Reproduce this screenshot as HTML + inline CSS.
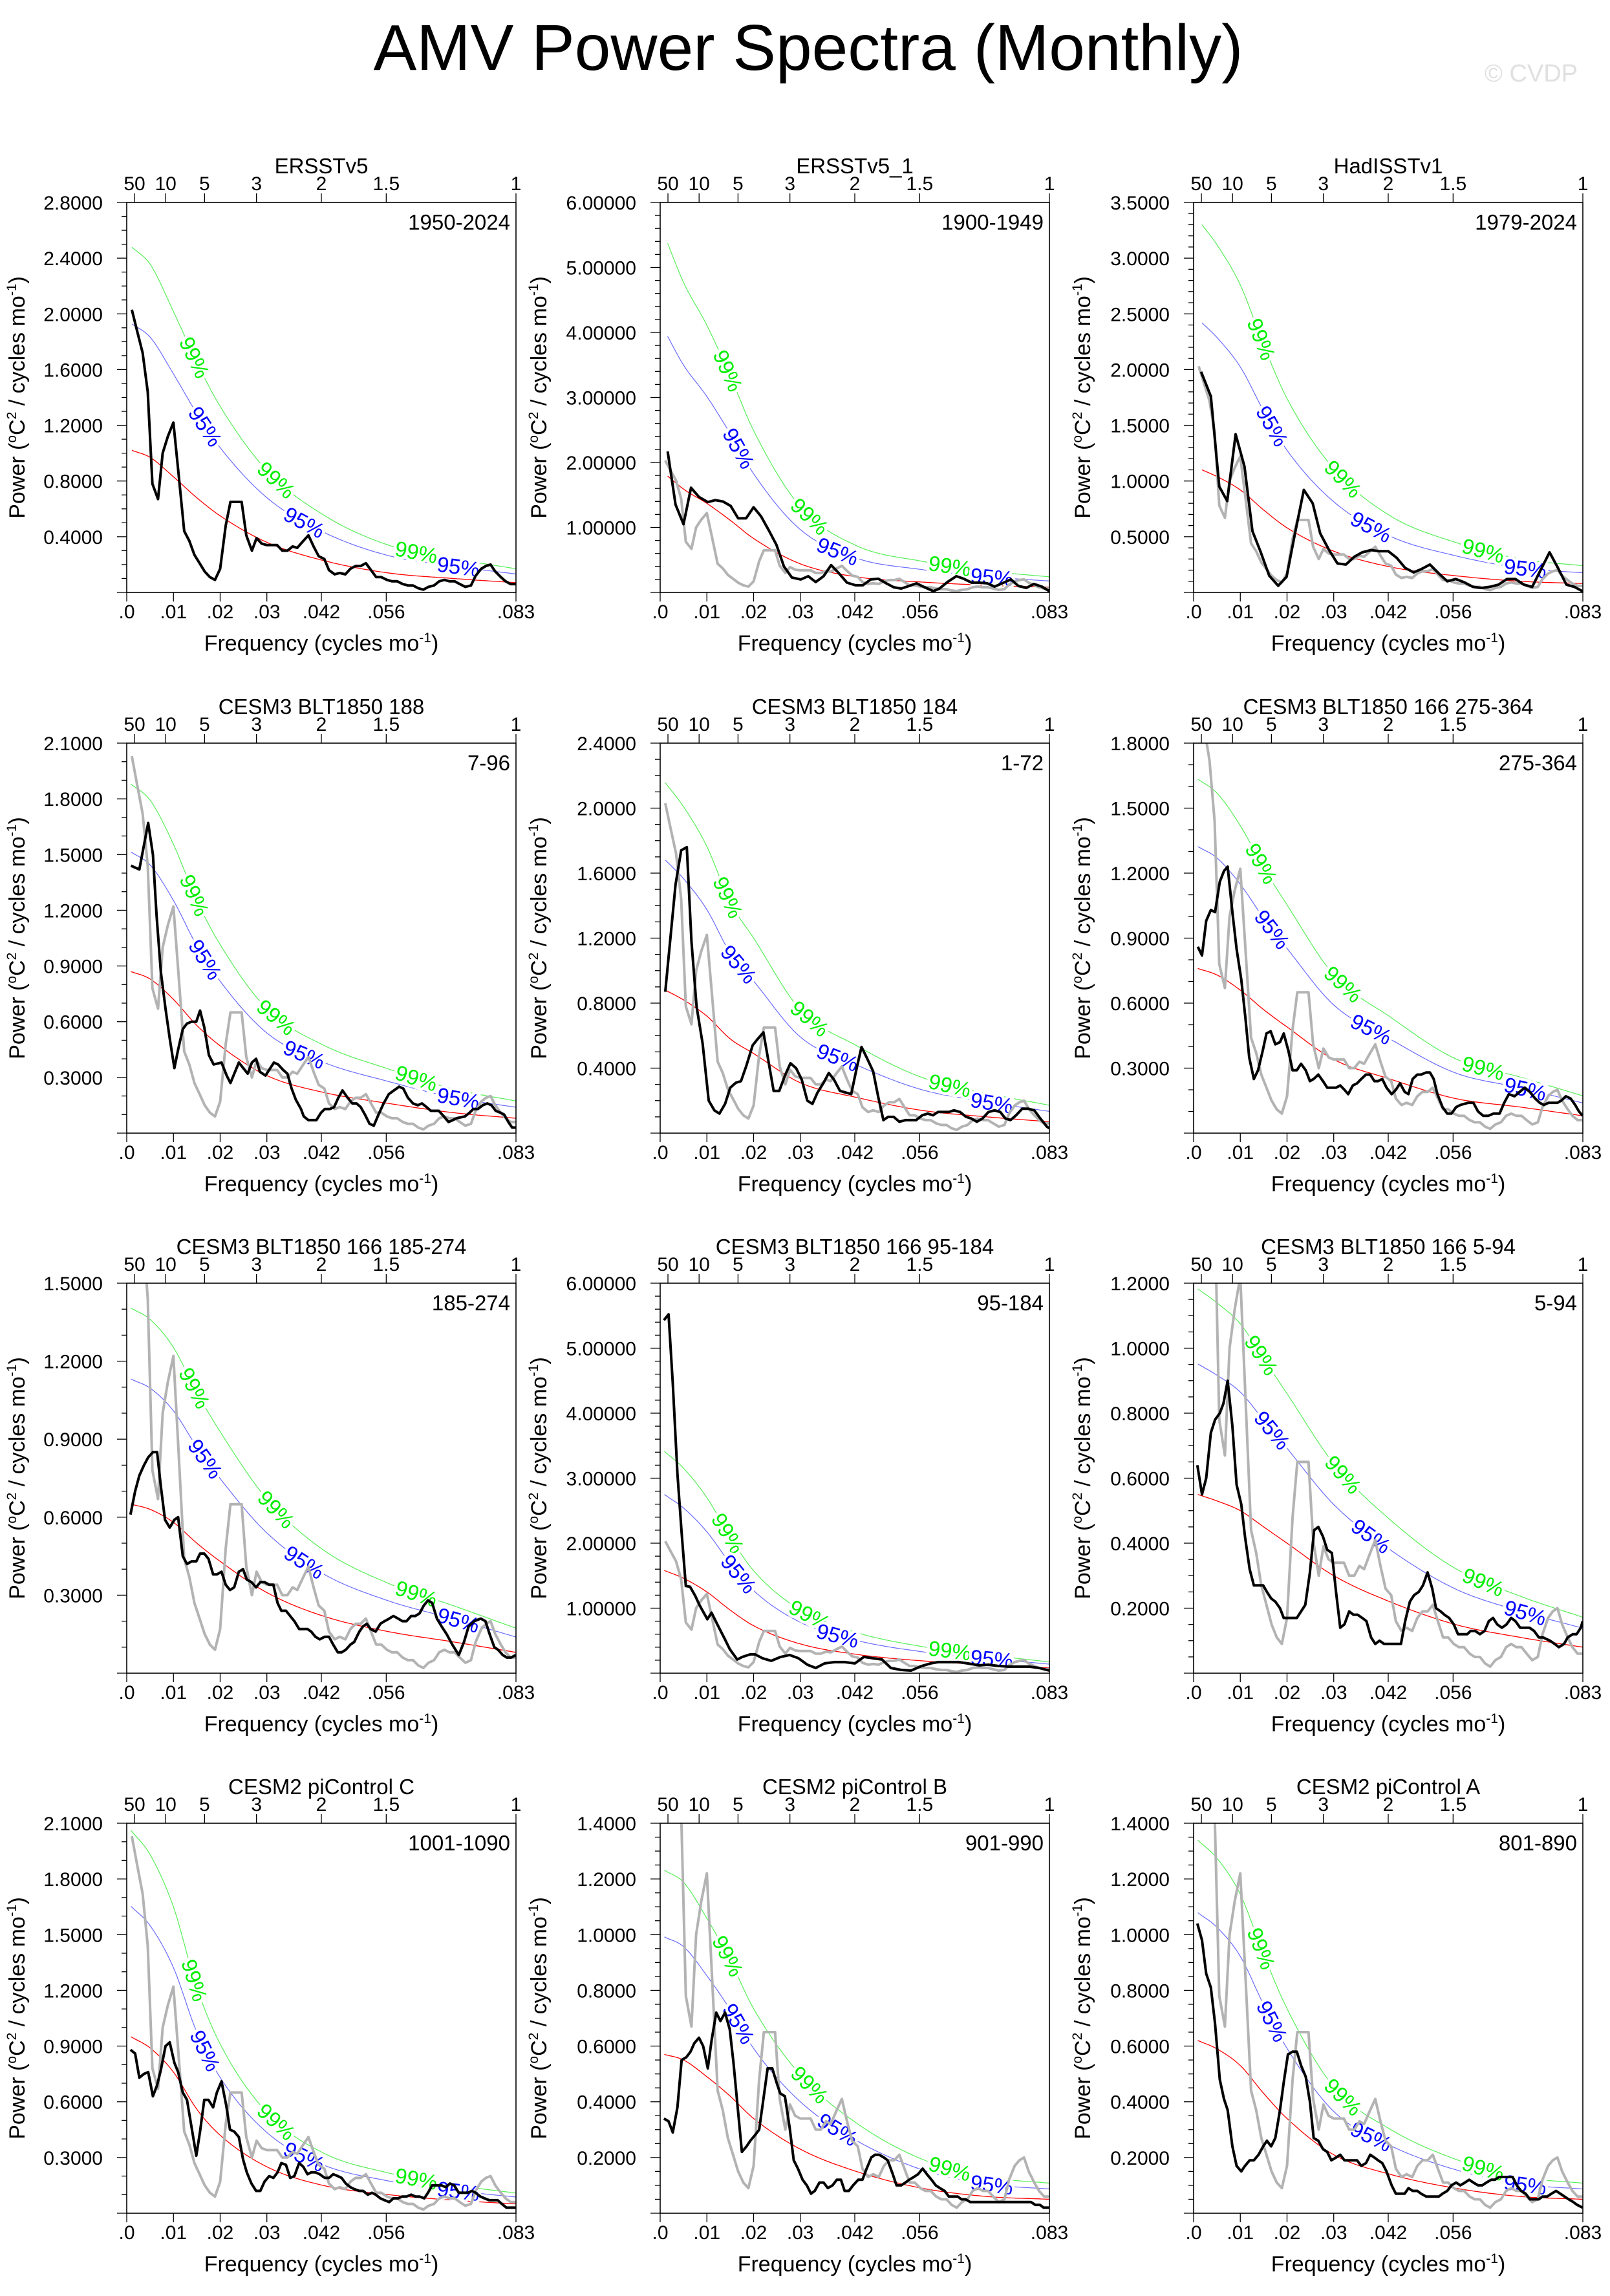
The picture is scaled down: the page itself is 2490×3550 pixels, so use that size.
<!DOCTYPE html>
<html><head><meta charset="utf-8"><title>AMV Power Spectra (Monthly)</title>
<style>
html,body{margin:0;padding:0;background:#fff;}
svg{display:block;font-family:"Liberation Sans",Arial,sans-serif;}
</style></head>
<body>
<svg id="fig" xmlns="http://www.w3.org/2000/svg" width="2490" height="3550" viewBox="0 0 2490 3550">
<rect x="0" y="0" width="2490" height="3550" fill="#fff"/>
<text x="1250" y="108" font-size="100" text-anchor="middle" fill="#000">AMV Power Spectra (Monthly)</text>
<text x="2440" y="126" font-size="38" text-anchor="end" fill="#e0e0e0">© CVDP</text>
</svg>
<script>
// ---- Data (frequency cycles/mo, power) ----
const black1 = [[.0011,2.03],[.0022,1.88],[.0034,1.72],[.0045,1.44],[.0055,.78],[.0067,.67],[.0077,1.00],[.0088,1.12],[.0100,1.22],[.0111,.85],[.0123,.44],[.0134,.37],[.0145,.27],[.0156,.21],[.0167,.15],[.0178,.11],[.0189,.09],[.0200,.17],[.0212,.48],[.0222,.65],[.0246,.65],[.0256,.41],[.0268,.30],[.0278,.39],[.0289,.35],[.0300,.34],[.0322,.34],[.0333,.30],[.0344,.30],[.0355,.33],[.0365,.32],[.0378,.37],[.0389,.41],[.0400,.33],[.0411,.26],[.0423,.24],[.0433,.16],[.0445,.13],[.0456,.14],[.0468,.13],[.0479,.17],[.0490,.19],[.0501,.19],[.0512,.21],[.0523,.16],[.0534,.11],[.0545,.11],[.0557,.09],[.0568,.08],[.0579,.08],[.0591,.06],[.0602,.05],[.0613,.05],[.0624,.03],[.0635,.02],[.0646,.04],[.0658,.05],[.0669,.08],[.0680,.09],[.0691,.08],[.0702,.08],[.0713,.06],[.0725,.04],[.0737,.05],[.0747,.12],[.0759,.17],[.0769,.19],[.0779,.20],[.0789,.15],[.0801,.11],[.0811,.08],[.0822,.06],[.0833,.06]];
const black2 = [[.0016,2.17],[.0033,1.35],[.0050,1.05],[.0066,1.61],[.0083,1.47],[.0102,1.39],[.0118,1.42],[.0134,1.40],[.0151,1.33],[.0167,1.14],[.0184,1.14],[.0200,1.31],[.0216,1.17],[.0233,.95],[.0249,.73],[.0265,.40],[.0282,.23],[.0301,.20],[.0317,.25],[.0333,.16],[.0350,.25],[.0366,.42],[.0382,.30],[.0400,.15],[.0418,.11],[.0434,.11],[.0451,.20],[.0467,.21],[.0484,.14],[.0500,.08],[.0516,.06],[.0533,.10],[.0549,.14],[.0566,.08],[.0585,.02],[.0598,.06],[.0615,.16],[.0634,.25],[.0650,.21],[.0667,.15],[.0683,.15],[.0700,.14],[.0716,.09],[.0732,.14],[.0751,.20],[.0767,.10],[.0784,.07],[.0800,.13],[.0817,.09],[.0833,.02]];
const black3 = [[.0016,1.98],[.0037,1.76],[.0055,.95],[.0072,.82],[.0090,1.42],[.0109,1.13],[.0126,.55],[.0143,.37],[.0162,.15],[.0181,.06],[.0199,.14],[.0217,.53],[.0236,.92],[.0255,.80],[.0271,.53],[.0290,.38],[.0308,.26],[.0326,.25],[.0344,.32],[.0361,.36],[.0380,.38],[.0398,.37],[.0417,.37],[.0435,.31],[.0453,.22],[.0471,.18],[.0488,.21],[.0506,.25],[.0525,.17],[.0543,.10],[.0561,.12],[.0580,.09],[.0598,.05],[.0616,.04],[.0634,.05],[.0653,.07],[.0671,.12],[.0689,.12],[.0707,.07],[.0725,.05],[.0744,.21],[.0762,.36],[.0780,.22],[.0798,.07],[.0815,.05],[.0833,.01]];
const black4 = [[.0009,1.44],[.0027,1.42],[.0046,1.67],[.0056,1.50],[.0064,1.17],[.0073,.87],[.0083,.67],[.0092,.51],[.0102,.35],[.0110,.45],[.0120,.56],[.0129,.59],[.0139,.60],[.0149,.60],[.0157,.66],[.0166,.57],[.0176,.42],[.0186,.37],[.0203,.38],[.0214,.31],[.0222,.27],[.0240,.38],[.0259,.32],[.0268,.38],[.0277,.40],[.0285,.33],[.0297,.31],[.0315,.38],[.0324,.37],[.0335,.34],[.0344,.32],[.0353,.24],[.0362,.18],[.0373,.13],[.0379,.09],[.0389,.07],[.0406,.07],[.0416,.11],[.0424,.13],[.0435,.13],[.0444,.14],[.0453,.19],[.0462,.23],[.0473,.19],[.0483,.16],[.0492,.16],[.0501,.14],[.0510,.10],[.0520,.05],[.0529,.04],[.0539,.10],[.0550,.16],[.0561,.21],[.0572,.23],[.0583,.25],[.0592,.24],[.0602,.19],[.0613,.16],[.0623,.15],[.0632,.16],[.0642,.14],[.0651,.12],[.0668,.12],[.0679,.09],[.0689,.06],[.0698,.07],[.0706,.08],[.0724,.09],[.0734,.11],[.0742,.13],[.0752,.13],[.0762,.15],[.0772,.16],[.0781,.15],[.0790,.12],[.0800,.11],[.0808,.10],[.0817,.06],[.0825,.03],[.0833,.03]];
const black5 = [[.0011,.87],[.0020,1.14],[.0033,1.53],[.0045,1.74],[.0057,1.76],[.0067,1.18],[.0078,.78],[.0091,.55],[.0104,.20],[.0116,.14],[.0127,.12],[.0139,.18],[.0150,.28],[.0162,.31],[.0173,.32],[.0184,.41],[.0198,.54],[.0209,.58],[.0221,.62],[.0232,.44],[.0243,.26],[.0255,.26],[.0268,.36],[.0279,.43],[.0291,.40],[.0303,.33],[.0315,.20],[.0326,.18],[.0337,.25],[.0350,.31],[.0361,.37],[.0372,.33],[.0385,.26],[.0397,.25],[.0409,.24],[.0420,.39],[.0431,.53],[.0443,.46],[.0456,.38],[.0467,.22],[.0478,.08],[.0488,.10],[.0500,.10],[.0512,.07],[.0525,.08],[.0537,.08],[.0548,.08],[.0561,.11],[.0573,.12],[.0584,.11],[.0595,.13],[.0606,.13],[.0618,.13],[.0629,.14],[.0642,.13],[.0655,.10],[.0666,.09],[.0678,.07],[.0690,.09],[.0703,.13],[.0716,.14],[.0728,.13],[.0739,.09],[.0750,.08],[.0762,.11],[.0775,.15],[.0788,.15],[.0801,.14],[.0814,.09],[.0828,.04],[.0833,.03]];
const black6 = [[.0009,.86],[.0018,.82],[.0027,.98],[.0037,1.03],[.0046,1.02],[.0056,1.16],[.0065,1.21],[.0073,1.23],[.0083,1.02],[.0092,.85],[.0102,.71],[.0111,.53],[.0119,.35],[.0129,.25],[.0138,.29],[.0148,.38],[.0156,.46],[.0165,.47],[.0175,.41],[.0185,.42],[.0193,.46],[.0203,.38],[.0212,.29],[.0221,.29],[.0230,.32],[.0240,.29],[.0249,.24],[.0257,.25],[.0267,.27],[.0277,.24],[.0286,.21],[.0295,.21],[.0305,.21],[.0314,.22],[.0323,.20],[.0331,.18],[.0341,.22],[.0350,.23],[.0359,.25],[.0369,.27],[.0378,.27],[.0387,.24],[.0395,.24],[.0404,.25],[.0413,.21],[.0424,.18],[.0433,.20],[.0442,.23],[.0452,.19],[.0460,.18],[.0469,.25],[.0479,.27],[.0487,.27],[.0498,.28],[.0506,.28],[.0514,.25],[.0522,.18],[.0533,.12],[.0543,.09],[.0552,.09],[.0562,.12],[.0571,.13],[.0588,.14],[.0599,.14],[.0609,.10],[.0620,.08],[.0631,.08],[.0642,.09],[.0655,.09],[.0665,.14],[.0675,.18],[.0687,.17],[.0698,.19],[.0709,.21],[.0720,.19],[.0731,.16],[.0741,.14],[.0750,.13],[.0760,.14],[.0768,.14],[.0779,.14],[.0787,.15],[.0797,.17],[.0807,.16],[.0817,.13],[.0825,.10],[.0833,.08]];
const black7 = [[.0008,.61],[.0018,.70],[.0027,.76],[.0037,.80],[.0046,.83],[.0056,.85],[.0065,.85],[.0073,.72],[.0082,.59],[.0092,.56],[.0102,.59],[.0110,.60],[.0120,.45],[.0129,.42],[.0139,.43],[.0149,.43],[.0157,.46],[.0166,.46],[.0175,.44],[.0185,.38],[.0193,.38],[.0203,.39],[.0212,.34],[.0221,.32],[.0230,.33],[.0240,.39],[.0249,.40],[.0257,.36],[.0267,.35],[.0277,.33],[.0286,.35],[.0295,.35],[.0305,.34],[.0314,.34],[.0323,.27],[.0331,.24],[.0341,.24],[.0350,.22],[.0359,.20],[.0369,.17],[.0378,.17],[.0387,.17],[.0395,.16],[.0404,.14],[.0413,.13],[.0424,.14],[.0433,.14],[.0442,.11],[.0452,.08],[.0460,.08],[.0469,.09],[.0479,.11],[.0487,.12],[.0498,.16],[.0506,.18],[.0514,.19],[.0522,.17],[.0533,.16],[.0543,.19],[.0552,.20],[.0562,.21],[.0571,.22],[.0581,.21],[.0590,.20],[.0599,.20],[.0609,.22],[.0618,.22],[.0627,.23],[.0636,.26],[.0645,.28],[.0654,.27],[.0664,.21],[.0674,.18],[.0685,.15],[.0697,.11],[.0711,.07],[.0722,.12],[.0732,.18],[.0744,.20],[.0758,.21],[.0768,.20],[.0777,.15],[.0787,.10],[.0795,.09],[.0805,.07],[.0814,.06],[.0823,.06],[.0833,.07]];
const black8 = [[.0008,5.43],[.0018,5.52],[.0027,4.46],[.0037,3.07],[.0046,2.16],[.0055,1.34],[.0064,1.33],[.0075,1.19],[.0084,1.05],[.0101,.83],[.0110,.93],[.0121,.77],[.0138,.53],[.0149,.37],[.0165,.21],[.0176,.25],[.0193,.29],[.0203,.29],[.0219,.23],[.0238,.19],[.0258,.25],[.0277,.28],[.0296,.23],[.0315,.13],[.0333,.08],[.0352,.15],[.0373,.17],[.0395,.17],[.0417,.15],[.0436,.25],[.0455,.23],[.0475,.21],[.0494,.08],[.0516,.05],[.0537,.04],[.0560,.11],[.0579,.15],[.0595,.17],[.0614,.17],[.0639,.17],[.0658,.15],[.0683,.12],[.0702,.13],[.0724,.11],[.0746,.10],[.0768,.10],[.0790,.10],[.0812,.08],[.0833,.04]];
const black9 = [[.0008,.64],[.0018,.55],[.0027,.60],[.0037,.74],[.0046,.78],[.0056,.80],[.0064,.83],[.0073,.90],[.0083,.76],[.0092,.58],[.0102,.52],[.0110,.42],[.0120,.32],[.0129,.27],[.0139,.27],[.0149,.27],[.0157,.25],[.0166,.23],[.0175,.22],[.0185,.20],[.0193,.17],[.0203,.17],[.0213,.17],[.0221,.17],[.0230,.19],[.0239,.21],[.0249,.31],[.0258,.44],[.0267,.45],[.0277,.42],[.0286,.38],[.0296,.37],[.0305,.25],[.0314,.14],[.0323,.15],[.0333,.19],[.0342,.18],[.0351,.18],[.0361,.17],[.0370,.16],[.0380,.11],[.0389,.09],[.0398,.10],[.0408,.09],[.0427,.09],[.0444,.09],[.0453,.16],[.0463,.22],[.0472,.24],[.0482,.25],[.0491,.27],[.0501,.31],[.0511,.26],[.0519,.20],[.0529,.19],[.0537,.18],[.0547,.17],[.0557,.15],[.0566,.12],[.0576,.12],[.0586,.12],[.0593,.13],[.0603,.13],[.0613,.12],[.0623,.13],[.0632,.16],[.0641,.17],[.0650,.15],[.0660,.14],[.0670,.15],[.0680,.17],[.0689,.16],[.0699,.14],[.0708,.14],[.0719,.14],[.0729,.13],[.0739,.11],[.0748,.11],[.0763,.10],[.0773,.09],[.0782,.08],[.0793,.09],[.0801,.11],[.0812,.12],[.0820,.12],[.0829,.14],[.0833,.16]];
const black10 = [[.0008,.88],[.0018,.86],[.0027,.73],[.0037,.75],[.0046,.76],[.0056,.63],[.0065,.69],[.0073,.77],[.0083,.90],[.0092,.92],[.0102,.81],[.0110,.76],[.0120,.65],[.0129,.61],[.0139,.46],[.0149,.31],[.0157,.44],[.0166,.61],[.0175,.61],[.0185,.57],[.0193,.65],[.0203,.71],[.0213,.58],[.0221,.45],[.0230,.44],[.0240,.41],[.0249,.29],[.0257,.22],[.0267,.16],[.0277,.12],[.0286,.12],[.0295,.17],[.0305,.20],[.0314,.19],[.0323,.22],[.0331,.27],[.0341,.26],[.0350,.19],[.0359,.20],[.0369,.27],[.0378,.25],[.0387,.21],[.0395,.22],[.0404,.22],[.0413,.21],[.0424,.19],[.0433,.19],[.0442,.21],[.0452,.20],[.0460,.19],[.0469,.16],[.0479,.14],[.0487,.13],[.0498,.12],[.0506,.12],[.0516,.10],[.0525,.11],[.0533,.10],[.0543,.08],[.0552,.07],[.0562,.06],[.0571,.08],[.0581,.08],[.0590,.09],[.0599,.09],[.0609,.10],[.0618,.09],[.0627,.09],[.0637,.08],[.0645,.11],[.0654,.15],[.0664,.15],[.0674,.15],[.0683,.14],[.0692,.16],[.0701,.15],[.0711,.11],[.0720,.11],[.0730,.11],[.0739,.12],[.0747,.11],[.0757,.09],[.0766,.08],[.0776,.07],[.0785,.07],[.0794,.07],[.0803,.05],[.0813,.03],[.0821,.03],[.0833,.03]];
const black11 = [[.0008,.34],[.0018,.33],[.0027,.29],[.0037,.38],[.0046,.55],[.0056,.56],[.0065,.58],[.0073,.61],[.0083,.63],[.0092,.60],[.0102,.52],[.0110,.62],[.0120,.72],[.0129,.69],[.0139,.72],[.0149,.66],[.0157,.54],[.0166,.38],[.0175,.22],[.0185,.24],[.0193,.26],[.0203,.28],[.0212,.30],[.0221,.41],[.0230,.52],[.0240,.52],[.0249,.47],[.0257,.43],[.0267,.42],[.0277,.31],[.0286,.19],[.0295,.16],[.0305,.12],[.0314,.10],[.0323,.07],[.0331,.08],[.0341,.11],[.0350,.11],[.0359,.09],[.0369,.10],[.0378,.12],[.0387,.12],[.0395,.08],[.0404,.08],[.0413,.10],[.0424,.12],[.0433,.12],[.0442,.16],[.0452,.20],[.0460,.21],[.0469,.21],[.0479,.20],[.0487,.19],[.0498,.14],[.0506,.10],[.0516,.10],[.0525,.11],[.0533,.12],[.0543,.13],[.0552,.14],[.0562,.16],[.0571,.14],[.0581,.12],[.0590,.10],[.0599,.09],[.0609,.08],[.0618,.06],[.0627,.06],[.0637,.06],[.0645,.05],[.0654,.05],[.0664,.04],[.0674,.04],[.0683,.04],[.0692,.04],[.0701,.04],[.0711,.04],[.0730,.04],[.0739,.04],[.0747,.04],[.0757,.04],[.0766,.04],[.0776,.04],[.0785,.04],[.0794,.04],[.0803,.03],[.0813,.03],[.0821,.02],[.0833,.02]];
const black12 = [[.0008,1.04],[.0018,.98],[.0027,.86],[.0037,.81],[.0046,.68],[.0056,.48],[.0065,.41],[.0073,.37],[.0083,.24],[.0092,.17],[.0102,.15],[.0110,.17],[.0120,.19],[.0129,.19],[.0139,.21],[.0149,.24],[.0157,.26],[.0166,.24],[.0175,.27],[.0185,.37],[.0193,.47],[.0202,.57],[.0212,.58],[.0221,.58],[.0230,.53],[.0240,.49],[.0249,.40],[.0257,.27],[.0267,.26],[.0277,.23],[.0286,.22],[.0295,.19],[.0305,.20],[.0314,.21],[.0323,.19],[.0331,.19],[.0341,.19],[.0350,.19],[.0359,.17],[.0369,.18],[.0378,.21],[.0387,.20],[.0395,.19],[.0404,.18],[.0413,.15],[.0424,.10],[.0433,.07],[.0442,.07],[.0452,.07],[.0460,.09],[.0469,.08],[.0479,.08],[.0487,.07],[.0498,.06],[.0506,.06],[.0516,.06],[.0525,.06],[.0533,.07],[.0543,.08],[.0552,.10],[.0562,.11],[.0571,.10],[.0581,.11],[.0590,.12],[.0599,.11],[.0609,.10],[.0618,.10],[.0627,.11],[.0637,.12],[.0645,.12],[.0654,.13],[.0664,.13],[.0674,.13],[.0683,.13],[.0692,.10],[.0701,.08],[.0711,.07],[.0720,.05],[.0730,.05],[.0739,.05],[.0747,.06],[.0757,.06],[.0766,.07],[.0776,.08],[.0785,.07],[.0794,.06],[.0803,.05],[.0813,.04],[.0821,.03],[.0833,.02]];
// red-noise (Markov) spectrum sampled at redFreqs (first entry replaced by panel's first freq)
const redFreqs = [0, .005, .01, .015, .02, .03, .042, .056, .07, 1/12];
const red1 = [1.02,.97,.83,.68,.55,.36,.23,.14,.10,.07];
const red2 = [1.79,1.59,1.37,1.11,.83,.44,.24,.16,.11,.08];
const red3 = [1.10,1.04,.92,.74,.58,.37,.23,.15,.10,.08];
const red4 = [.87,.83,.72,.58,.47,.31,.22,.16,.11,.08];
const red5 = [.88,.82,.72,.58,.49,.31,.22,.14,.10,.07];
const red6 = [.76,.73,.66,.57,.49,.34,.25,.16,.12,.08];
const red7 = [.65,.63,.58,.50,.43,.31,.22,.16,.12,.08];
const red8 = [1.58,1.46,1.25,.97,.73,.45,.29,.19,.13,.08];
const red9 = [.55,.53,.50,.45,.40,.30,.22,.15,.11,.08];
const red10 = [.95,.89,.76,.56,.42,.25,.15,.10,.07,.05];
const red11 = [.57,.55,.49,.42,.34,.23,.15,.09,.06,.05];
const red12 = [.62,.59,.53,.43,.34,.21,.14,.09,.06,.05];
// significance multipliers (95%, 99%)
const sig95 = [1.89,2.2,2.2,1.74,1.91,1.74,1.74,1.74,1.73,1.74,1.74,1.74];
const sig99 = [2.43,3.0,3.0,2.16,2.45,2.15,2.16,2.16,2.15,2.17,2.16,2.16];
const firstFreq = [.0011,.0016,.0018,.0009,.0011,.0009,.0009,.0009,.0009,.0009,.0009,.0009];
const titles = ["ERSSTv5","ERSSTv5_1","HadISSTv1","CESM3 BLT1850 188","CESM3 BLT1850 184","CESM3 BLT1850 166 275-364","CESM3 BLT1850 166 185-274","CESM3 BLT1850 166 95-184","CESM3 BLT1850 166 5-94","CESM2 piControl C","CESM2 piControl B","CESM2 piControl A"];
const periods = ["1950-2024","1900-1949","1979-2024","7-96","1-72","275-364","185-274","95-184","5-94","1001-1090","901-990","801-890"];
const yMaxes = [2.8,6.0,3.5,2.1,2.4,1.8,1.5,6.0,1.2,2.1,1.4,1.4];
const yMajor = [0.4,1.0,0.5,0.3,0.4,0.3,0.3,1.0,0.2,0.3,0.2,0.2];
const yMinor = [0.1,0.2,0.1,0.1,0.1,0.1,0.1,0.2,0.05,0.1,0.05,0.05];
const yDecimals = [4,5,4,4,4,4,4,5,4,4,4,4];
const xTickVals = [0,.01,.02,.03,1/24,1/18,1/12];
const xTickLabels = [".0",".01",".02",".03",".042",".056",".083"];
const periodYears = [50,10,5,3,2,1.5,1];
const periodLabels = ["50","10","5","3","2","1.5","1"];
const blacks = [black1,black2,black3,black4,black5,black6,black7,black8,black9,black10,black11,black12];
const reds = [red1,red2,red3,red4,red5,red6,red7,red8,red9,red10,red11,red12];
const gray = black1;
const lab99 = [.0145,.032,.062];
const lab95 = [.0168,.038,.071];

// ---- drawing ----
const NS = "http://www.w3.org/2000/svg";
const svg = document.getElementById('fig');
const colL = [196,1021,1846];
const yTitleOff = [158,176,160];
const rowT = [313,1149,1984,2819];
const PW = 602, PH = 603, FMAX = 1/12;
function mk(tag, attrs, parent){const e=document.createElementNS(NS,tag);for(const k in attrs)e.setAttribute(k,attrs[k]);(parent||svg).appendChild(e);return e;}
function monotone(xs,ys){
  const n=xs.length,d=[],m=[];
  for(let i=0;i<n-1;i++)d.push((ys[i+1]-ys[i])/(xs[i+1]-xs[i]));
  m[0]=d[0];m[n-1]=d[n-2];
  for(let i=1;i<n-1;i++){m[i]=(d[i-1]*d[i]<=0)?0:(d[i-1]+d[i])/2;}
  for(let i=0;i<n-1;i++){if(d[i]===0){m[i]=0;m[i+1]=0;continue;}const a=m[i]/d[i],b=m[i+1]/d[i],s=a*a+b*b;if(s>9){const t=3/Math.sqrt(s);m[i]=t*a*d[i];m[i+1]=t*b*d[i];}}
  return x=>{let i=0;while(i<n-2&&x>xs[i+1])i++;const h=xs[i+1]-xs[i],t=(x-xs[i])/h,t2=t*t,t3=t2*t;
    return (2*t3-3*t2+1)*ys[i]+(t3-2*t2+t)*h*m[i]+(-2*t3+3*t2)*ys[i+1]+(t3-t2)*h*m[i+1];};
}
function interp(pts,x){for(let i=0;i<pts.length-1;i++){if(x>=pts[i][0]&&x<=pts[i+1][0]){const t=(x-pts[i][0])/(pts[i+1][0]-pts[i][0]);return pts[i][1]+t*(pts[i+1][1]-pts[i][1]);}}return pts[pts.length-1][1];}

for(let p=0;p<12;p++){
  const L=colL[p%3], T=rowT[Math.floor(p/3)], B=T+PH, R=L+PW;
  const ymax=yMaxes[p];
  const xs=f=>L+f/FMAX*PW;
  const ys=v=>B-v/ymax*PH;
  const g=mk('g',{});
  
  
  const cid='clip'+p;
  const cp=mk('clipPath',{id:cid},g); mk('rect',{x:L,y:T,width:PW,height:PH},cp);

  const tt=mk('text',{x:L+PW/2,y:T-45,'font-size':33,'text-anchor':'middle'},g); tt.textContent=titles[p];
   
  const pt=mk('text',{x:R-9,y:T+42,'font-size':33,'text-anchor':'end'},g); pt.textContent=periods[p];
   

  const f0=firstFreq[p];
  const rf=redFreqs.map((f,i)=>i===0?f0:f);
  const fn=monotone(rf,reds[p]);
  const samp=[];for(let i=0;i<=150;i++)samp.push(f0+(FMAX-f0)*i/150);
  const mkCurve=(k)=>samp.map(f=>[xs(f),ys(fn(f)*k)]);
  const toD=pts=>'M'+pts.map(q=>q[0].toFixed(1)+','+q[1].toFixed(1)).join(' L');
  const redPts=mkCurve(1), bluePts=mkCurve(sig95[p]), greenPts=mkCurve(sig99[p]);
  const cg=mk('g',{'clip-path':'url(#'+cid+')'},g);
  const rp=mk('path',{d:toD(redPts),fill:'none',stroke:'#ff0000','stroke-width':1.3},cg);
   
  const bp=mk('path',{d:toD(bluePts),fill:'none',stroke:'#6a6aff','stroke-width':1.2},cg);
   
  const gp=mk('path',{d:toD(greenPts),fill:'none',stroke:'#55ee55','stroke-width':1.2},cg);
   
  const addLab=(pts,freqs,txt,col,name)=>{
    freqs.forEach(f=>{
      const x=xs(f), y=interp(pts,x);
      if(y<T+20) return;
      const y1=interp(pts,x-6), y2=interp(pts,x+6);
      const ang=Math.atan2(y2-y1,12)*180/Math.PI;
      const t=mk('text',{x:x,y:y,'font-size':33,'text-anchor':'middle','dominant-baseline':'central',fill:col,stroke:'#fff','stroke-width':9,'paint-order':'stroke',transform:'rotate('+ang.toFixed(1)+' '+x.toFixed(1)+' '+y.toFixed(1)+')'},g);
      t.textContent=txt;
       
    });
  };
  addLab(greenPts,lab99,'99%','#00ee00','sig99-label');
  addLab(bluePts,lab95,'95%','#0000ff','sig95-label');

  const dg=mk('g',{'clip-path':'url(#'+cid+')'},g);
  if(p>0){
    const gl=mk('polyline',{points:gray.map(d=>xs(d[0]).toFixed(1)+','+ys(d[1]).toFixed(1)).join(' '),fill:'none',stroke:'#b3b3b3','stroke-width':4,'stroke-linejoin':'round'},dg);
     
  }
  const bl=mk('polyline',{points:blacks[p].map(d=>xs(d[0]).toFixed(1)+','+ys(d[1]).toFixed(1)).join(' '),fill:'none',stroke:'#000','stroke-width':4,'stroke-linejoin':'round'},dg);
   

  const fr=mk('rect',{x:L,y:T,width:PW,height:PH,fill:'none',stroke:'#000','stroke-width':1.6},g);
   

  const nMin=Math.round(ymax/yMinor[p]);
  for(let i=0;i<=nMin;i++){
    const v=i*yMinor[p]; const y=ys(v);
    const isMaj=Math.abs(v/yMajor[p]-Math.round(v/yMajor[p]))<1e-6;
    mk('line',{x1:L-(isMaj?15:8),x2:L,y1:y,y2:y,stroke:'#000','stroke-width':1.3},g);
    if(isMaj && i>0){
      const t=mk('text',{x:L-37,y:y+11,'font-size':30,'text-anchor':'end'},g); t.textContent=v.toFixed(yDecimals[p]);
       
    }
  }
  xTickVals.forEach((f,i)=>{
    const x=xs(f);
    mk('line',{x1:x,x2:x,y1:B,y2:B+14,stroke:'#000','stroke-width':1.3},g);
    const t=mk('text',{x:x,y:B+40,'font-size':30,'text-anchor':'middle'},g); t.textContent=xTickLabels[i];
     
  });
  periodYears.forEach((yr,i)=>{
    const x=xs(1/(12*yr));
    mk('line',{x1:x,x2:x,y1:T-14,y2:T,stroke:'#000','stroke-width':1.3},g);
    const t=mk('text',{x:x,y:T-19,'font-size':30,'text-anchor':'middle'},g); t.textContent=periodLabels[i];
     
  });
  const xt=mk('text',{x:L+PW/2,y:B+90,'font-size':34,'text-anchor':'middle'},g);
  xt.innerHTML='Frequency (cycles mo<tspan dy="-13" font-size="21">-1</tspan><tspan dy="13">)</tspan>';
   
  const cx=L-yTitleOff[p%3], cy=T+PH/2;
  const yt=mk('text',{x:cx,y:cy,'font-size':34,'text-anchor':'middle',transform:'rotate(-90 '+cx+' '+cy+')'},g);
  yt.innerHTML='Power (<tspan dy="-13" font-size="21">o</tspan><tspan dy="13">C</tspan><tspan dy="-13" font-size="21">2</tspan><tspan dy="13"> / cycles mo</tspan><tspan dy="-13" font-size="21">-1</tspan><tspan dy="13">)</tspan>';
   
}
</script>
</body></html>
